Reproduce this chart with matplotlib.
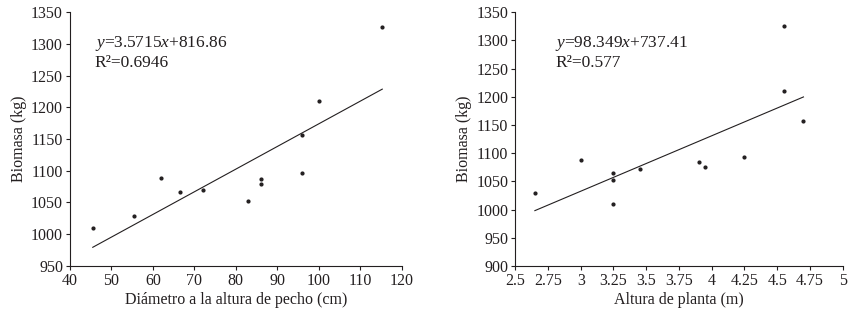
import matplotlib
matplotlib.use('Agg')
import matplotlib.pyplot as plt
import numpy as np

# Biomasa vs diametro a la altura de pecho
dap = [45.5, 55.5, 62, 66.5, 72, 83, 86, 86, 96, 96, 100, 115.3]
bio_dap = [1009, 1029, 1089, 1067, 1070, 1053, 1087, 1079, 1157, 1097, 1210, 1327]
fit_dap = (3.5715, 816.86)

# Biomasa vs altura de planta
altura = [2.65, 3.0, 3.25, 3.25, 3.25, 3.45, 3.9, 3.95, 4.25, 4.55, 4.55, 4.7]
bio_alt = [1029, 1088, 1064, 1053, 1009, 1071, 1085, 1076, 1094, 1326, 1210, 1157]
fit_alt = (98.349, 737.41)

dap_ticks = [40, 50, 60, 70, 80, 90, 100, 110, 120]
alt_ticks = [2.5, 2.75, 3, 3.25, 3.5, 3.75, 4, 4.25, 4.5, 4.75, 5]
alt_labels = ['2.5', '2.75', '3', '3.25', '3.5', '3.75', '4', '4.25', '4.5', '4.75', '5']

plt.rcParams['font.family'] = ['Liberation Serif', 'DejaVu Serif']
plt.rcParams['mathtext.fontset'] = 'custom'
plt.rcParams['mathtext.rm'] = 'Liberation Serif'
plt.rcParams['mathtext.it'] = 'Liberation Serif:italic'
ink = '#231f20'
fs = 11.5

fig = plt.figure(figsize=(8.53, 3.2), dpi=100)
ax1 = fig.add_axes([0.082, 0.169, 0.389, 0.793])
ax2 = fig.add_axes([0.604, 0.169, 0.384, 0.793])


def style(ax):
    for s in ['top', 'right']:
        ax.spines[s].set_visible(False)
    for s in ['left', 'bottom']:
        ax.spines[s].set_color(ink)
        ax.spines[s].set_linewidth(0.8)
    ax.tick_params(direction='out', length=3, width=0.8, colors=ink, labelsize=fs, pad=2)


def draw(ax, x, y, fit, eq, r2, txtx):
    m, b = fit
    xs = np.array([min(x), max(x)])
    ax.plot(xs, m * xs + b, color=ink, lw=0.8)
    ax.scatter(x, y, s=4, color=ink, zorder=3)
    ax.text(txtx, 0.915, eq, transform=ax.transAxes, va='top', ha='left',
            fontsize=fs + 1, color=ink)
    ax.text(txtx, 0.83, r2, transform=ax.transAxes, va='top', ha='left',
            fontsize=fs + 1, color=ink)
    ax.set_ylabel('Biomasa (kg)', fontsize=fs, color=ink, labelpad=3)


draw(ax1, dap, bio_dap, fit_dap, r'$y$=3.5715$x$+816.86', 'R²=0.6946', 0.075)
ax1.set_xlim(40, 120)
ax1.set_ylim(950, 1350)
ax1.set_xticks(dap_ticks)
ax1.set_yticks(range(950, 1351, 50))
ax1.set_xlabel('Diámetro a la altura de pecho (cm)', fontsize=fs, color=ink, labelpad=2)
style(ax1)

draw(ax2, altura, bio_alt, fit_alt, r'$y$=98.349$x$+737.41', 'R²=0.577', 0.122)
ax2.set_xlim(2.5, 5)
ax2.set_ylim(900, 1350)
ax2.set_xticks(alt_ticks)
ax2.set_xticklabels(alt_labels)
ax2.set_yticks(range(900, 1351, 50))
ax2.set_xlabel('Altura de planta (m)', fontsize=fs, color=ink, labelpad=2)
style(ax2)

fig.savefig('out.png', dpi=100)
